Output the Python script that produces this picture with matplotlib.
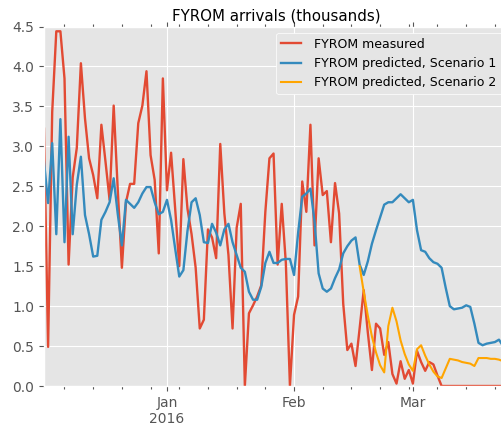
import pandas as pd
import matplotlib
matplotlib.use('Agg')
import matplotlib.pyplot as plt
import matplotlib.dates as mdates

plt.style.use('ggplot')

start = '2015-12-02'

measured = [3.22, 0.49, 3.43, 4.44, 4.44, 3.85, 1.52, 2.61, 2.98, 4.04,
            3.35, 2.85, 2.64, 2.35, 3.27, 2.81, 2.33, 3.51, 2.45, 1.48,
            2.30, 2.53, 2.53, 3.29, 3.51, 3.94, 2.89, 2.58, 1.66, 3.85,
            2.45, 2.92, 2.22, 1.50, 2.84, 2.22, 1.90, 1.48, 0.72, 0.83,
            1.96, 1.86, 1.60, 3.03, 2.16, 1.64, 0.72, 1.98, 2.28, 0.00,
            0.91, 1.01, 1.12, 1.26, 2.18, 2.85, 2.91, 1.52, 2.28, 1.54,
            0.00, 0.89, 1.12, 2.56, 2.18, 3.27, 1.76, 2.85, 2.39, 2.44,
            1.80, 2.54, 2.16, 1.03, 0.45, 0.53, 0.25, 0.72, 1.20, 0.67,
            0.20, 0.78, 0.72, 0.39, 0.55, 0.15, 0.03, 0.31, 0.09, 0.20,
            0.03, 0.44, 0.30, 0.19, 0.30, 0.27, 0.13, 0.00, 0.00, 0.00,
            0.00, 0.00, 0.00, 0.00, 0.00, 0.00, 0.00, 0.00, 0.00, 0.00,
            0.00, 0.00, 0.00]

scenario1 = [2.81, 2.29, 3.04, 1.90, 3.34, 1.80, 3.12, 1.90, 2.52, 2.87,
             2.14, 1.90, 1.62, 1.63, 2.08, 2.18, 2.30, 2.60, 2.15, 1.76,
             2.33, 2.28, 2.23, 2.30, 2.41, 2.49, 2.49, 2.30, 2.15, 2.18,
             2.33, 2.08, 1.72, 1.37, 1.45, 1.94, 2.30, 2.35, 2.14, 1.80,
             1.79, 2.03, 1.92, 1.76, 1.96, 2.03, 1.80, 1.64, 1.48, 1.43,
             1.18, 1.08, 1.08, 1.24, 1.54, 1.68, 1.54, 1.54, 1.58, 1.59,
             1.59, 1.39, 1.92, 2.37, 2.41, 2.47, 2.06, 1.41, 1.22, 1.18,
             1.22, 1.35, 1.46, 1.66, 1.75, 1.82, 1.86, 1.52, 1.39, 1.56,
             1.78, 1.95, 2.11, 2.27, 2.30, 2.30, 2.35, 2.40, 2.35, 2.30,
             2.33, 1.95, 1.70, 1.68, 1.60, 1.55, 1.53, 1.48, 1.23, 1.00,
             0.96, 0.97, 0.98, 1.01, 0.99, 0.78, 0.54, 0.51, 0.53, 0.54,
             0.55, 0.58, 0.50]

# scenario 2 only starts on day 77 (Feb 17)
scenario2_start = 77
scenario2 = [1.50, 1.18, 0.88, 0.62, 0.42, 0.26, 0.17, 0.75, 0.98, 0.81,
             0.57, 0.40, 0.27, 0.19, 0.46, 0.51, 0.38, 0.27, 0.18, 0.12,
             0.10, 0.22, 0.34, 0.33, 0.32, 0.30, 0.29, 0.28, 0.25, 0.35,
             0.35, 0.35, 0.34, 0.34, 0.33, 0.31]

dates = pd.date_range(start, periods=len(measured), freq='D')
dates2 = dates[scenario2_start:scenario2_start + len(scenario2)]

fig = plt.figure(figsize=(5.02, 4.26), dpi=100)
# the right side of the axes runs a bit past the picture edge
ax = fig.add_axes([44 / 502, 40 / 426, 464 / 502, 359.5 / 426])

ax.plot(dates, measured, color='#E24A33', linewidth=1.7, label='FYROM measured')
ax.plot(dates, scenario1, color='#348ABD', linewidth=1.7,
        label='FYROM predicted, Scenario 1')
ax.plot(dates2, scenario2, color='orange', linewidth=1.5,
        label='FYROM predicted, Scenario 2')

ax.set_xlim(dates[0], dates[0] + pd.Timedelta(days=113.2))
ax.set_ylim(0, 4.5)
ax.set_yticks([0.0, 0.5, 1.0, 1.5, 2.0, 2.5, 3.0, 3.5, 4.0, 4.5])
ax.yaxis.set_major_formatter(plt.FormatStrFormatter('%.1f'))

def month_label(x, pos):
    d = mdates.num2date(x)
    if d.month == 1:
        return d.strftime('%b\n%Y')
    return d.strftime('%b')

ax.xaxis.set_major_locator(mdates.MonthLocator())
ax.xaxis.set_major_formatter(plt.FuncFormatter(month_label))
ax.xaxis.set_minor_locator(mdates.WeekdayLocator(byweekday=mdates.MO))
ax.tick_params(axis='both', which='both', direction='out', top=True,
               right=True, colors='#555555', width=0.8)
ax.tick_params(axis='both', which='major', labelsize=10, length=3.5)
ax.tick_params(axis='x', which='minor', length=2)

ax.set_title('FYROM arrivals (thousands)', fontsize=10.8, pad=4)
leg = ax.legend(loc='upper right', fontsize=9, framealpha=1,
                handlelength=1.6, handletextpad=1.05)
leg.get_frame().set_facecolor('#E5E5E5')
leg.get_frame().set_edgecolor('white')

plt.savefig('out.png', dpi=100)
